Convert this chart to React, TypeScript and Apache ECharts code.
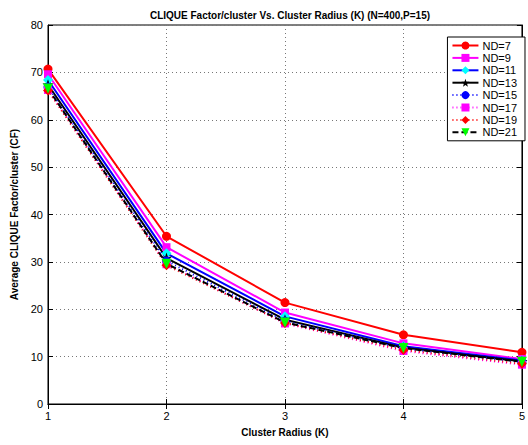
import React, { useEffect, useRef } from "react";
import * as echarts from "echarts";

const radius = [1, 2, 3, 4, 5];
const seriesNames = ["ND=7", "ND=9", "ND=11", "ND=13", "ND=15", "ND=17", "ND=19", "ND=21"];
const nd7 = [70.7, 35.4, 21.4, 14.6, 10.9];
const nd9 = [69.6, 33.1, 19.3, 12.8, 9.5];
const nd11 = [68.4, 31.8, 18.5, 12.2, 9.2];
const nd13 = [67.4, 30.8, 17.8, 11.9, 9.0];
const nd15 = [66.9, 30.2, 17.5, 11.7, 8.8];
const nd17 = [66.3, 29.5, 17.0, 11.2, 8.3];
const nd19 = [66.2, 29.3, 17.1, 11.4, 8.5];
const nd21 = [66.6, 29.6, 17.2, 11.8, 8.9];
const yTicks = [0, 10, 20, 30, 40, 50, 60, 70, 80];

function starPath(): string {
  const pts: string[] = [];
  for (let i = 0; i < 10; i++) {
    const a = (-90 + i * 36) * Math.PI / 180;
    const r = i % 2 === 0 ? 10 : 4;
    pts.push(`${(10 + r * Math.cos(a)).toFixed(2)},${(10 + r * Math.sin(a)).toFixed(2)}`);
  }
  return "path://M" + pts.join("L") + "Z";
}

export default function App() {
  const ref = useRef<HTMLDivElement>(null);
  useEffect(() => {
    if (!ref.current) return;
    const chart = echarts.init(ref.current, undefined, { renderer: "svg" });
    const data = [nd7, nd9, nd11, nd13, nd15, nd17, nd19, nd21];
    const styles = [
      { line: "#ff0000", marker: "#ff0000", symbol: "circle", type: "solid", size: 9, rot: 0 },
      { line: "#ff00ff", marker: "#ff00ff", symbol: "rect", type: "solid", size: 8, rot: 0 },
      { line: "#0000ff", marker: "#00ffff", symbol: "diamond", type: "solid", size: 10, rot: 0 },
      { line: "#000000", marker: "#000000", symbol: starPath(), type: "solid", size: 11, rot: 0 },
      { line: "#0000ff", marker: "#0000ff", symbol: "circle", type: [1, 3], size: 9, rot: 0 },
      { line: "#ff00ff", marker: "#ff00ff", symbol: "rect", type: [1, 3], size: 8, rot: 0 },
      { line: "#ff0000", marker: "#ff0000", symbol: "diamond", type: [1, 3], size: 10, rot: 0 },
      { line: "#000000", marker: "#00ff00", symbol: "triangle", type: [6, 3], size: 10, rot: 180 },
    ];
    const series = data.map((d, i) => ({
      name: seriesNames[i],
      type: "line",
      data: radius.map((x, j) => [x, d[j]]),
      symbol: styles[i].symbol,
      symbolSize: styles[i].size,
      symbolRotate: styles[i].rot,
      showAllSymbol: true,
      lineStyle: { color: styles[i].line, width: 2, type: styles[i].type },
      itemStyle: { color: styles[i].marker, borderWidth: 0 },
      emphasis: { disabled: true },
    }));
    const font = "Liberation Sans, Arial, sans-serif";
    chart.setOption({
      animation: false,
      backgroundColor: "#ffffff",
      textStyle: { fontFamily: font },
      title: {
        text: "CLIQUE Factor/cluster Vs. Cluster Radius (K) (N=400,P=15)",
        left: 285,
        textAlign: "center",
        top: 5,
        textStyle: { fontSize: 10, fontWeight: "bold", color: "#000", fontFamily: font },
      },
      grid: { left: 48, right: 6, top: 25, bottom: 41, show: true, borderColor: "#000", borderWidth: 1 },
      legend: {
        orient: "vertical",
        right: 3,
        top: 37,
        itemWidth: 26,
        itemHeight: 10,
        itemGap: 1.4,
        padding: [3, 8, 3, 4],
        backgroundColor: "#fff",
        borderColor: "#000",
        borderWidth: 1,
        textStyle: { fontSize: 11, lineHeight: 10, color: "#000", fontFamily: font, padding: [0, 0, 0, -1] },
        data: seriesNames,
      },
      xAxis: [
        {
          type: "value",
          min: 1,
          max: 5,
          interval: 1,
          name: "Cluster Radius (K)",
          nameLocation: "middle",
          nameGap: 23,
          nameTextStyle: { fontSize: 10, fontWeight: "bold", color: "#000", fontFamily: font },
          axisLine: { show: true, lineStyle: { color: "#000", width: 1 } },
          axisTick: { show: true, inside: true, length: 5, lineStyle: { color: "#000" } },
          axisLabel: { fontSize: 11, color: "#000", margin: 6, fontFamily: font },
          splitLine: { show: true, lineStyle: { color: "#777", type: [1, 3], width: 1 } },
        },
        {
          type: "value",
          position: "top",
          min: 1,
          max: 5,
          interval: 1,
          axisLine: { show: true, lineStyle: { color: "#000" } },
          axisTick: { show: true, inside: true, length: 5, lineStyle: { color: "#000" } },
          axisLabel: { show: false },
          splitLine: { show: false },
        },
      ],
      yAxis: [
        {
          type: "value",
          min: yTicks[0],
          max: yTicks[yTicks.length - 1],
          interval: 10,
          name: "Average CLIQUE Factor/cluster (CF)",
          nameLocation: "middle",
          nameGap: 29,
          nameTextStyle: { fontSize: 10, fontWeight: "bold", color: "#000", fontFamily: font },
          axisLine: { show: true, lineStyle: { color: "#000", width: 1 } },
          axisTick: { show: true, inside: true, length: 5, lineStyle: { color: "#000" } },
          axisLabel: { fontSize: 11, color: "#000", margin: 5, fontFamily: font },
          splitLine: { show: true, lineStyle: { color: "#777", type: [1, 3], width: 1 } },
        },
        {
          type: "value",
          position: "right",
          min: 0,
          max: 80,
          interval: 10,
          axisLine: { show: true, lineStyle: { color: "#000" } },
          axisTick: { show: true, inside: true, length: 5, lineStyle: { color: "#000" } },
          axisLabel: { show: false },
          splitLine: { show: false },
        },
      ],
      series,
    });
    return () => chart.dispose();
  }, []);
  return (
    <div
      ref={ref}
      style={{ position: "absolute", left: 0, top: 0, width: 528, height: 445 }}
    />
  );
}
